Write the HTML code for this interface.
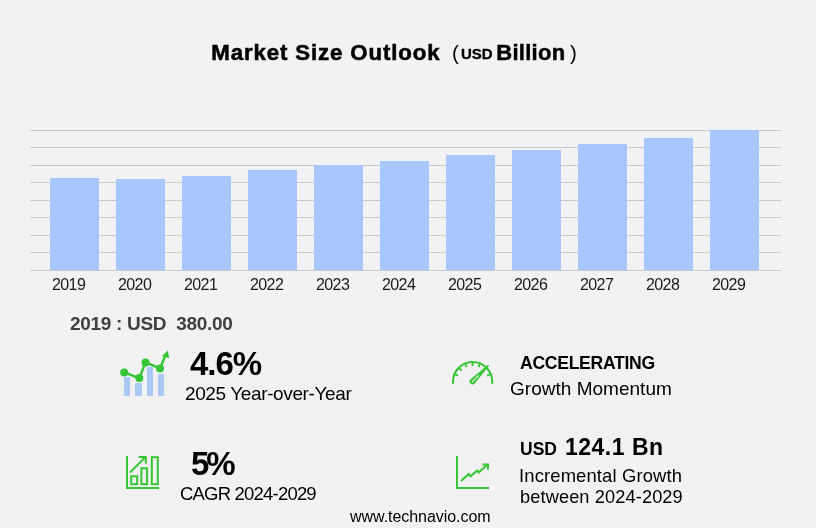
<!DOCTYPE html>
<html><head><meta charset="utf-8">
<style>
html,body{margin:0;padding:0;width:816px;height:528px;overflow:hidden;background:#f2f2f4;}
svg{display:block;font-family:"Liberation Sans",sans-serif;will-change:transform;}
</style></head>
<body>
<svg width="816" height="528" viewBox="0 0 816 528">
<rect x="0" y="0" width="816" height="528" fill="#f2f2f4"/>
<!-- title -->
<text x="211.3" y="59.8" font-size="22.2" font-weight="bold" fill="#000" stroke="#000" stroke-width="0.55" letter-spacing="0.9">Market Size Outlook</text>
<text x="452" y="59.5" font-size="20.5" fill="#000">(</text>
<text x="461" y="59" font-size="15" font-weight="bold" fill="#000" stroke="#000" stroke-width="0.3">USD</text>
<text x="496.2" y="60" font-size="22" font-weight="bold" fill="#000" stroke="#000" stroke-width="0.45" letter-spacing="0.3">Billion</text>
<text x="570" y="59.5" font-size="20.5" fill="#000">)</text>
<!-- gridlines -->
<g fill="#c9c9cb">
<rect x="30" y="130" width="751" height="1"/>
<rect x="30" y="147" width="751" height="1"/>
<rect x="30" y="165" width="751" height="1"/>
<rect x="30" y="182" width="751" height="1"/>
<rect x="30" y="200" width="751" height="1"/>
<rect x="30" y="217" width="751" height="1"/>
<rect x="30" y="235" width="751" height="1"/>
<rect x="30" y="252" width="751" height="1"/>
<rect x="30" y="270" width="751" height="1"/>
</g>
<!-- bars -->
<g fill="#a7c7fd">
<rect x="50" y="178" width="49" height="92"/>
<rect x="116" y="179" width="49" height="91"/>
<rect x="182" y="176" width="49" height="94"/>
<rect x="248" y="170" width="49" height="100"/>
<rect x="314" y="165" width="49" height="105"/>
<rect x="380" y="161" width="49" height="109"/>
<rect x="446" y="155" width="49" height="115"/>
<rect x="512" y="150" width="49" height="120"/>
<rect x="578" y="144" width="49" height="126"/>
<rect x="644" y="138" width="49" height="132"/>
<rect x="710" y="130" width="49" height="140"/>
</g>
<!-- axis labels -->
<g font-size="16" fill="#1a1a1a" letter-spacing="-0.6">
<text x="52" y="290">2019</text>
<text x="118" y="290">2020</text>
<text x="184" y="290">2021</text>
<text x="250" y="290">2022</text>
<text x="316" y="290">2023</text>
<text x="382" y="290">2024</text>
<text x="448" y="290">2025</text>
<text x="514" y="290">2026</text>
<text x="580" y="290">2027</text>
<text x="646" y="290">2028</text>
<text x="712" y="290">2029</text>
</g>
<!-- panel -->
<rect x="30" y="330" width="762" height="166" fill="#f1f1f2"/>
<text x="70" y="329.6" font-size="19" font-weight="bold" fill="#404040" letter-spacing="-0.3" xml:space="preserve">2019 : USD  380.00</text>

<!-- KPI 1 -->
<text x="190" y="375" font-size="33" font-weight="bold" fill="#000" letter-spacing="-1">4.6%</text>
<text x="185" y="400" font-size="19" fill="#000" letter-spacing="-0.38">2025 Year-over-Year</text>
<!-- KPI 2 -->
<text x="520" y="369.3" font-size="17.6" font-weight="bold" fill="#000" letter-spacing="-0.3">ACCELERATING</text>
<text x="510" y="394.8" font-size="19" fill="#000" letter-spacing="0.02">Growth Momentum</text>
<!-- KPI 3 -->
<text x="191" y="475" font-size="33" font-weight="bold" fill="#000" letter-spacing="-3">5%</text>
<text x="180" y="500" font-size="18.5" fill="#000" letter-spacing="-0.8">CAGR 2024-2029</text>
<!-- KPI 4 -->
<text x="520" y="455" font-size="17.5" font-weight="bold" fill="#000">USD</text>
<text x="565" y="455" font-size="23" font-weight="bold" fill="#000" letter-spacing="0.5">124.1 Bn</text>
<text x="519" y="482" font-size="18.4" fill="#000" letter-spacing="0.15">Incremental Growth</text>
<text x="520" y="503" font-size="18.2" fill="#000" letter-spacing="0.12">between 2024-2029</text>
<!-- footer -->
<text x="350" y="522" font-size="16" fill="#000" letter-spacing="-0.05">www.technavio.com</text>

<line x1="782" y1="497" x2="800" y2="528" stroke="#f5f5f7" stroke-width="1.6"/>
<!-- icon 1 -->
<g fill="#a9c8f3">
<rect x="124" y="377" width="6" height="19" rx="1"/>
<rect x="135" y="383" width="7" height="13" rx="1"/>
<rect x="147" y="367" width="6" height="29" rx="1"/>
<rect x="158" y="374" width="6" height="22" rx="1"/>
</g>
<g fill="#35c635" stroke="#35c635">
<polyline points="124.2,372.4 139.3,378.1 145.5,362.4 160,368.4 166,354" fill="none" stroke-width="2.5"/>
<circle cx="124.2" cy="372.4" r="4" stroke="none"/>
<circle cx="139.3" cy="378.1" r="4" stroke="none"/>
<circle cx="145.5" cy="362.4" r="4" stroke="none"/>
<circle cx="160" cy="368.4" r="4" stroke="none"/>
<polygon points="168,350.5 169,358 162,356" stroke="none"/>
</g>
<!-- icon 2 gauge -->
<g fill="none" stroke="#35c635" stroke-width="2.1">
<path d="M453,383.8 L453,381.6 A19.6,19.6 0 0 1 492.2,381.6 L492.2,383.8"/>
</g>
<g stroke="#35c635" stroke-width="1.9"><line x1="489.97" y1="374.41" x2="487.01" y2="375.63"/><line x1="479.79" y1="364.23" x2="478.57" y2="367.19"/><line x1="472.60" y1="362.80" x2="472.60" y2="366.00"/><line x1="465.41" y1="364.23" x2="466.63" y2="367.19"/><line x1="459.31" y1="368.31" x2="461.57" y2="370.57"/><line x1="455.23" y1="374.41" x2="458.19" y2="375.63"/></g>
<path d="M470.27,379.5 L488.1,364.7 L489.1,365.7 L474.53,383.7 A3,3 0 0 1 470.27,379.5 Z" fill="#35c635"/><line x1="472.1" y1="381.9" x2="478.6" y2="375.6" stroke="#f1f1f1" stroke-width="1.1" stroke-linecap="round"/>
<!-- icon 3 -->
<g fill="none" stroke="#35c635" stroke-width="2">
<polyline points="127,456 127,488 159,488"/>
<rect x="131.2" y="476.3" width="6" height="7.9"/>
<rect x="141.4" y="468.3" width="5.7" height="15.9"/>
<rect x="151.8" y="457.2" width="6" height="27"/>
<polyline points="130,472.5 145.5,457"/>
<polyline points="138.7,457 145.8,457 145.8,463.5"/>
</g>
<!-- icon 4 -->
<g fill="none" stroke="#35c635" stroke-width="2">
<polyline points="457,456 457,488 489,488"/>
<polyline points="461,481 468.7,474 470.6,476.3 477.2,470.4 478.6,472.5 487,465"/>
<polyline points="482.4,464.5 488,464.5 488,469.6"/>
</g>
</svg>
</body></html>
